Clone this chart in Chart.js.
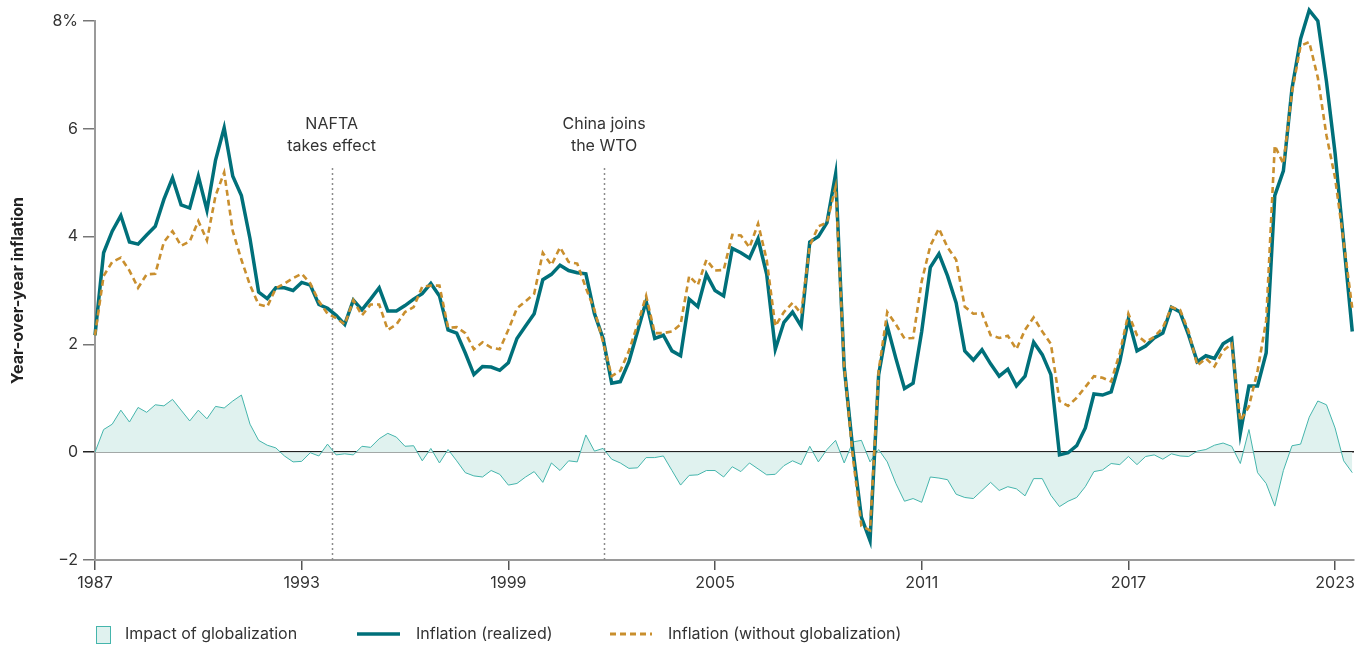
<!DOCTYPE html>
<html>
<head>
<meta charset="utf-8">
<title>Inflation and globalization</title>
<style>
  html, body { margin: 0; padding: 0; background: #fff; }
  #wrap { width: 1369px; height: 646px; }
</style>
<script src="https://cdn.jsdelivr.net/npm/chart.js@4/dist/chart.umd.min.js"></script>
</head>
<body>
<div id="wrap"><canvas id="inflationChart" width="1369" height="646"></canvas></div>
<script>
// quarterly data, first point = 1987 Q1
const startYear = 1987;

// Inflation (realized), one row per year
const realized = [
  2.17, 3.70, 4.10, 4.39,   // 1987
  3.90, 3.86, 4.03, 4.19,
  4.69, 5.09, 4.59, 4.53,
  5.12, 4.49, 5.42, 6.02,   // 1990
  5.12, 4.76, 3.96, 2.97,
  2.85, 3.05, 3.05, 3.00,
  3.15, 3.10, 2.74, 2.67,   // 1993
  2.54, 2.37, 2.82, 2.64,
  2.84, 3.05, 2.62, 2.62,
  2.72, 2.84, 2.94, 3.13,   // 1996
  2.90, 2.27, 2.21, 1.84,
  1.44, 1.59, 1.58, 1.52,
  1.66, 2.11, 2.34, 2.57,   // 1999
  3.20, 3.30, 3.47, 3.37,
  3.33, 3.31, 2.57, 2.11,
  1.28, 1.31, 1.68, 2.24,   // 2002
  2.80, 2.11, 2.17, 1.88,
  1.79, 2.84, 2.70, 3.30,
  3.00, 2.90, 3.78, 3.70,   // 2005
  3.60, 3.96, 3.30, 1.91,
  2.41, 2.60, 2.34, 3.90,
  4.00, 4.26, 5.16, 1.58,   // 2008
  0.05, -1.21, -1.64, 1.44,
  2.34, 1.74, 1.18, 1.28,
  2.24, 3.43, 3.68, 3.27,   // 2011
  2.77, 1.88, 1.71, 1.90,
  1.64, 1.41, 1.54, 1.23,
  1.41, 2.04, 1.81, 1.44,   // 2014
  -0.05, -0.01, 0.12, 0.45,
  1.08, 1.06, 1.12, 1.68,
  2.47, 1.88, 1.97, 2.12,   // 2017
  2.21, 2.69, 2.60, 2.17,
  1.68, 1.79, 1.74, 2.01,
  2.11, 0.35, 1.23, 1.23,   // 2020
  1.84, 4.76, 5.22, 6.75,
  7.67, 8.20, 8.00, 6.88,
  5.55, 3.90, 2.24          // 2023
];

// Inflation (without globalization)
const withoutGlobalization = [
  2.17, 3.27, 3.53, 3.61,   // 1987
  3.37, 3.05, 3.30, 3.31,
  3.90, 4.10, 3.83, 3.91,
  4.29, 3.93, 4.76, 5.19,   // 1990
  4.10, 3.57, 3.10, 2.74,
  2.70, 3.04, 3.13, 3.23,
  3.31, 3.13, 2.80, 2.57,   // 1993
  2.49, 2.37, 2.82, 2.54,
  2.74, 2.74, 2.27, 2.37,
  2.60, 2.69, 3.07, 3.09,   // 1996
  3.09, 2.31, 2.32, 2.21,
  1.91, 2.04, 1.94, 1.91,
  2.27, 2.67, 2.80, 2.94,   // 1999
  3.70, 3.47, 3.80, 3.53,
  3.50, 3.05, 2.64, 2.04,
  1.41, 1.51, 1.88, 2.37,   // 2002
  2.90, 2.21, 2.21, 2.24,
  2.37, 3.27, 3.10, 3.57,
  3.37, 3.38, 4.03, 4.02,   // 2005
  3.80, 4.24, 3.57, 2.34,
  2.60, 2.77, 2.57, 3.83,
  4.19, 4.26, 4.92, 1.58,   // 2008
  -0.08, -1.37, -1.45, 1.51,
  2.60, 2.37, 2.11, 2.12,
  3.17, 3.83, 4.15, 3.80,   // 2011
  3.57, 2.70, 2.57, 2.58,
  2.17, 2.12, 2.16, 1.91,
  2.27, 2.50, 2.24, 2.01,   // 2014
  0.95, 0.86, 1.01, 1.21,
  1.41, 1.38, 1.31, 1.84,
  2.57, 2.17, 2.04, 2.14,   // 2017
  2.31, 2.69, 2.64, 2.24,
  1.61, 1.74, 1.59, 1.88,
  2.01, 0.58, 0.85, 1.51,   // 2020
  2.44, 5.69, 5.35, 6.68,
  7.54, 7.61, 6.95, 5.88,
  5.09, 3.90, 2.67          // 2023
];

// Impact of globalization
const impact = [
  0.00, 0.42, 0.52, 0.78,   // 1987
  0.56, 0.83, 0.74, 0.88,
  0.86, 0.98, 0.78, 0.58,
  0.78, 0.62, 0.85, 0.82,   // 1990
  0.95, 1.06, 0.52, 0.22,
  0.13, 0.08, -0.07, -0.18,
  -0.17, -0.01, -0.07, 0.15, // 1993
  -0.05, -0.03, -0.05, 0.11,
  0.09, 0.25, 0.35, 0.28,
  0.11, 0.12, -0.16, 0.07,  // 1996
  -0.20, 0.05, -0.16, -0.38,
  -0.44, -0.46, -0.34, -0.41,
  -0.61, -0.58, -0.46, -0.36, // 1999
  -0.56, -0.20, -0.34, -0.16,
  -0.18, 0.32, 0.02, 0.07,
  -0.13, -0.20, -0.30, -0.29, // 2002
  -0.10, -0.10, -0.07, -0.34,
  -0.61, -0.43, -0.42, -0.34,
  -0.34, -0.46, -0.27, -0.36, // 2005
  -0.20, -0.31, -0.42, -0.41,
  -0.25, -0.16, -0.23, 0.11,
  -0.18, 0.05, 0.22, -0.20, // 2008
  0.19, 0.22, -0.18, 0.05,
  -0.18, -0.58, -0.91, -0.86,
  -0.93, -0.46, -0.48, -0.51, // 2011
  -0.78, -0.84, -0.86, -0.71,
  -0.56, -0.71, -0.64, -0.68,
  -0.81, -0.49, -0.49, -0.80, // 2014
  -1.01, -0.91, -0.84, -0.64,
  -0.36, -0.33, -0.21, -0.23,
  -0.08, -0.23, -0.08, -0.05, // 2017
  -0.13, -0.03, -0.07, -0.08,
  0.02, 0.05, 0.13, 0.17,
  0.11, -0.21, 0.42, -0.38, // 2020
  -0.58, -1.00, -0.34, 0.12,
  0.15, 0.65, 0.95, 0.88,
  0.45, -0.16, -0.38        // 2023
];

const xTickYears = [1987, 1993, 1999, 2005, 2011, 2017, 2023];
const yTickValues = [-2, 0, 2, 4, 6, 8];

const events = [
  { year: 1993.87, label: ['NAFTA', 'takes effect'] },
  { year: 2001.78, label: ['China joins', 'the WTO'] }
];

const COLOR_REALIZED = '#00707a';
const COLOR_NO_GLOBAL = '#c98f2e';
const COLOR_IMPACT_LINE = '#45b5ac';
const COLOR_IMPACT_FILL = '#e0f2ef';
const TEXT_COLOR = '#333333';
const FONT_FAMILY = 'Inter, "Noto Sans", sans-serif';

// x position (decimal year) of each quarter
const quarterX = realized.map((_, i) => startYear + i * 0.25);

function toPoints(values) {
  return values.map((v, i) => ({ x: quarterX[i], y: v }));
}

const overlayPlugin = {
  id: 'overlay',
  beforeDatasetsDraw(chart) {
    const { ctx, chartArea, scales } = chart;
    ctx.save();
    ctx.strokeStyle = '#8c8c8c';
    ctx.lineWidth = 1.5;
    ctx.setLineDash([2, 3]);
    events.forEach(ev => {
      const px = Math.round(scales.x.getPixelForValue(ev.year)) + 0.5;
      ctx.beginPath();
      ctx.moveTo(px, 168);
      ctx.lineTo(px, chartArea.bottom);
      ctx.stroke();
    });
    ctx.restore();
  },
  afterDraw(chart) {
    const { ctx, scales } = chart;
    ctx.save();
    ctx.fillStyle = TEXT_COLOR;
    ctx.font = '16px ' + FONT_FAMILY;
    ctx.textAlign = 'center';
    ctx.textBaseline = 'middle';
    events.forEach(ev => {
      const px = scales.x.getPixelForValue(ev.year);
      ctx.fillText(ev.label[0], px, 124);
      ctx.fillText(ev.label[1], px, 146);
    });

    // legend
    const ly = 634;
    ctx.textAlign = 'left';
    ctx.fillStyle = COLOR_IMPACT_FILL;
    ctx.fillRect(96, 626, 14, 17);
    ctx.strokeStyle = COLOR_IMPACT_LINE;
    ctx.lineWidth = 1;
    ctx.strokeRect(96.5, 626.5, 14, 17);
    ctx.fillStyle = TEXT_COLOR;
    ctx.fillText('Impact of globalization', 125, ly);

    ctx.strokeStyle = COLOR_REALIZED;
    ctx.lineWidth = 3.5;
    ctx.beginPath();
    ctx.moveTo(357, ly);
    ctx.lineTo(400, ly);
    ctx.stroke();
    ctx.fillText('Inflation (realized)', 416, ly);

    ctx.strokeStyle = COLOR_NO_GLOBAL;
    ctx.lineWidth = 3;
    ctx.setLineDash([6, 4]);
    ctx.beginPath();
    ctx.moveTo(610, ly);
    ctx.lineTo(652, ly);
    ctx.stroke();
    ctx.setLineDash([]);
    ctx.fillText('Inflation (without globalization)', 668, ly);
    ctx.restore();
  }
};

document.addEventListener('DOMContentLoaded', function () {
  initChart();
});

function initChart() {
  const ctx = document.getElementById('inflationChart');

  new Chart(ctx, {
    type: 'line',
    data: {
      datasets: [
        {
          label: 'Impact of globalization',
          data: toPoints(impact),
          borderColor: COLOR_IMPACT_LINE,
          backgroundColor: COLOR_IMPACT_FILL,
          borderWidth: 1,
          fill: 'origin',
          pointRadius: 0,
          tension: 0,
          order: 3
        },
        {
          label: 'Inflation (realized)',
          data: toPoints(realized),
          borderColor: COLOR_REALIZED,
          borderWidth: 3.5,
          fill: false,
          pointRadius: 0,
          tension: 0,
          clip: false,
          order: 2
        },
        {
          label: 'Inflation (without globalization)',
          data: toPoints(withoutGlobalization),
          borderColor: COLOR_NO_GLOBAL,
          borderWidth: 2.6,
          borderDash: [6, 4],
          fill: false,
          pointRadius: 0,
          tension: 0,
          clip: false,
          order: 1
        }
      ]
    },
    options: {
      responsive: false,
      animation: false,
      devicePixelRatio: 1,
      layout: {
        padding: { left: 0, right: 15, top: 21, bottom: 0 }
      },
      scales: {
        x: {
          type: 'linear',
          min: 1987,
          max: 2023.55,
          afterBuildTicks: function (scale) {
            scale.ticks = xTickYears.map(v => ({ value: v }));
          },
          afterFit: function (scale) {
            scale.height = 86;
          },
          ticks: {
            autoSkip: false,
            maxRotation: 0,
            padding: 4,
            color: TEXT_COLOR,
            font: { family: FONT_FAMILY, size: 16 },
            callback: function (value) {
              return String(value);
            }
          },
          grid: {
            drawOnChartArea: false,
            tickLength: 10,
            tickColor: '#555',
            lineWidth: 1.5
          },
          border: { color: '#9a9a9a', width: 2 }
        },
        y: {
          min: -2,
          max: 8,
          afterBuildTicks: function (scale) {
            scale.ticks = yTickValues.map(v => ({ value: v }));
          },
          afterFit: function (scale) {
            scale.width = 95;
          },
          ticks: {
            padding: 5,
            color: TEXT_COLOR,
            font: { family: FONT_FAMILY, size: 16 },
            callback: function (value) {
              if (value === 8) return '8%';
              if (value < 0) return '\u2212' + Math.abs(value);
              return String(value);
            }
          },
          grid: {
            color: c => (c.tick && c.tick.value === 0) ? '#222' : 'rgba(0,0,0,0)',
            tickColor: c => (c.tick && c.tick.value === 0) ? '#222' : '#777',
            tickLength: 12,
            lineWidth: 1.5
          },
          border: { color: '#9a9a9a', width: 2 },
          title: {
            display: true,
            text: 'Year-over-year inflation',
            color: '#222',
            font: { family: FONT_FAMILY, size: 16, weight: 'bold' },
            padding: { top: 9, bottom: 0 }
          }
        }
      },
      plugins: {
        legend: { display: false },
        tooltip: { enabled: false }
      }
    },
    plugins: [overlayPlugin]
  });
}
</script>
</body>
</html>
